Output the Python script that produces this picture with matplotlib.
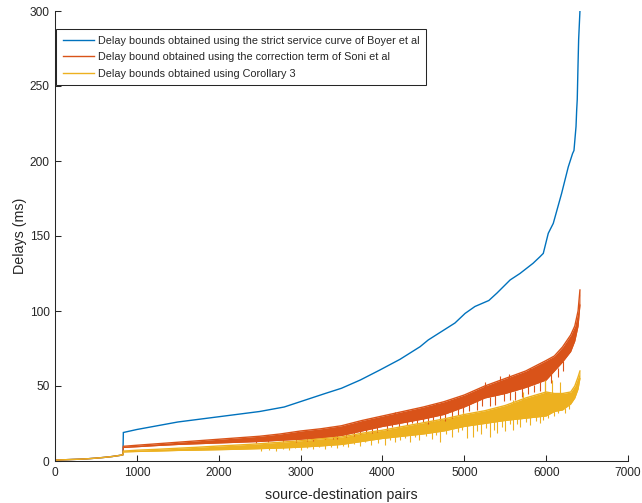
import numpy as np
import matplotlib
matplotlib.use("Agg")
import matplotlib.pyplot as plt

plt.rcParams['font.family'] = ['Liberation Sans', 'DejaVu Sans']

# ---- data -------------------------------------------------------------
# shared initial segment (all three bounds coincide)
start_x = [1, 100, 200, 300, 400, 500, 600, 700, 800, 830]
start_y = [0.6, 0.8, 1.0, 1.2, 1.5, 1.9, 2.4, 3.0, 3.8, 4.2]

# strict service curve (Boyer et al)
boyer_x = [835, 1000, 1500, 2000, 2500, 2800, 3050, 3300, 3500, 3730, 3970,
           4215, 4460, 4560, 4886, 5010, 5130, 5300, 5400, 5560, 5680, 5840,
           5925, 5965, 6026, 6087, 6189, 6270, 6323, 6340, 6365, 6373, 6380,
           6389, 6397, 6413]
boyer_y = [19.0, 21.0, 26.0, 29.5, 33.0, 36.0, 40.5, 45.0, 48.5, 54.0, 60.7,
           67.8, 76.2, 80.7, 92.0, 98.4, 103.0, 107.0, 112.0, 120.7, 125.0,
           131.8, 136.2, 138.4, 151.8, 158.4, 178.4, 196.0, 205.0, 207.0,
           223.0, 234.0, 241.0, 263.0, 281.0, 300.0]

# band of the oscillating bounds after the jump
band_x = [835, 1000, 1250, 1500, 1750, 2000, 2250, 2500, 2750, 3000, 3250,
          3500, 3750, 4000, 4250, 4500, 4750, 5000, 5250, 5500, 5750, 6000,
          6100, 6200, 6300, 6350, 6390, 6413]

soni_top = [9.8, 10.5, 11.5, 12.5, 13.5, 14.5, 15.5, 16.5, 18.0, 20.0, 21.5,
            23.5, 27.0, 30.0, 33.0, 36.0, 39.5, 44.0, 50.0, 55.0, 60.0, 67.0,
            70.0, 76.0, 84.0, 90.0, 100.0, 114.0]
soni_bot = [9.0, 9.5, 10.3, 11.0, 11.5, 12.0, 12.5, 13.0, 13.8, 14.5, 15.5,
            17.0, 20.0, 23.0, 25.5, 28.0, 31.0, 36.0, 42.0, 45.0, 49.0, 54.0,
            60.0, 66.0, 73.0, 80.0, 90.0, 104.0]

coro_top = [6.6, 7.2, 7.8, 8.5, 9.2, 10.0, 10.7, 11.5, 12.5, 13.5, 14.8,
            16.0, 18.5, 20.5, 23.0, 25.5, 28.0, 31.0, 33.5, 37.0, 42.0, 46.0,
            45.0, 45.0, 46.0, 50.0, 56.0, 60.0]
coro_bot = [6.0, 6.3, 6.6, 7.0, 7.2, 7.5, 7.8, 8.2, 8.6, 9.2, 10.0,
            11.0, 13.0, 15.0, 16.5, 18.0, 20.0, 23.0, 25.0, 27.0, 28.5, 30.0,
            33.0, 34.0, 38.0, 42.0, 48.0, 55.0]

# individual excursions of the oscillating bounds (x, low, high)
soni_spike_x = [2450, 2600, 2780, 2950, 3080, 3150, 3300, 3400, 3450, 3560,
                3650, 3720, 3800, 3870, 3930, 4050, 4120, 4150, 4200, 4300,
                4360, 4418, 4500, 4560, 4622, 4650, 4700, 4760, 4850, 4920,
                4988, 5060, 5150, 5220, 5250, 5314, 5380, 5436, 5480, 5550,
                5560, 5620, 5700, 5780, 5803, 5850, 5930, 5990, 6060, 6140,
                6210]
soni_spike_lo = [12.0, 12.4, 12.8, 12.8, 13.6, 13.5, 14.5, 15.0, 15.0, 16.2,
                 16.5, 18.0, 19.0, 18.5, 19.6, 20.7, 22.5, 29.0, 23.0, 24.0,
                 25.5, 24.5, 26.0, 25.0, 26.5, 35.0, 27.5, 27.0, 29.0, 30.5,
                 31.0, 33.5, 34.0, 37.0, 48.0, 36.5, 37.5, 50.0, 40.0, 52.0,
                 41.0, 40.7, 43.0, 45.0, 55.0, 46.0, 47.0, 45.0, 52.0, 56.0,
                 60.0]
soni_spike_hi = [13.8, 14.2, 14.8, 15.5, 15.8, 16.0, 16.6, 17.2, 17.5, 18.5,
                 19.5, 20.5, 21.5, 22.5, 23.5, 24.0, 25.0, 33.0, 26.0, 27.0,
                 27.5, 28.5, 29.0, 29.5, 30.5, 39.0, 31.0, 32.0, 33.5, 35.0,
                 37.0, 38.5, 41.0, 42.0, 53.0, 43.0, 44.0, 57.0, 45.5, 58.0,
                 46.5, 47.0, 48.5, 50.0, 62.0, 51.0, 53.0, 54.5, 58.0, 62.0,
                 67.0]

coro_spike_x = [2520, 2610, 2700, 2790, 2860, 2930, 3010, 3080, 3150, 3230,
                3300, 3370, 3440, 3520, 3580, 3650, 3720, 3790, 3860, 3950,
                4031, 4092, 4150, 4215, 4280, 4337, 4400, 4450, 4530, 4600,
                4650, 4703, 4780, 4850, 4920, 4970, 4990, 5029, 5110, 5160,
                5200, 5260, 5314, 5360, 5400, 5460, 5500, 5560, 5599, 5600,
                5640, 5680, 5720, 5760, 5800, 5870, 5920, 5965, 5986, 6020,
                6068, 6100, 6150, 6170, 6230, 6280]
coro_spike_lo = [7.0, 7.6, 6.9, 7.8, 7.2, 8.4, 7.5, 8.8, 7.9, 9.1,
                 8.2, 9.6, 8.6, 10.3, 9.1, 11.2, 10.0, 12.4, 11.0, 11.8,
                 10.7, 14.0, 12.5, 14.0, 15.5, 12.9, 16.0, 14.0, 17.0, 15.0,
                 17.5, 12.9, 18.0, 16.0, 19.5, 21.0, 28.0, 15.1, 16.2, 20.0,
                 18.0, 22.0, 16.2, 21.0, 18.7, 23.0, 20.0, 24.5, 20.7, 36.0,
                 25.0, 23.0, 38.0, 26.0, 24.0, 27.0, 25.5, 27.3, 42.0, 29.0,
                 42.0, 30.0, 32.0, 42.0, 31.8, 35.0]
coro_spike_hi = [9.2, 9.4, 9.6, 9.8, 10.0, 10.1, 10.2, 10.5, 10.7, 11.0,
                 11.2, 11.5, 11.8, 12.2, 12.6, 13.2, 13.8, 14.3, 14.8, 15.6,
                 16.2, 16.6, 17.0, 17.3, 17.7, 18.0, 18.4, 18.7, 19.3, 19.6,
                 20.0, 20.3, 21.2, 21.6, 22.5, 23.7, 33.0, 24.1, 24.8, 25.2,
                 25.4, 26.1, 26.5, 26.8, 27.2, 27.6, 28.0, 28.4, 28.6, 41.0,
                 28.8, 29.1, 46.0, 29.6, 29.8, 30.2, 30.5, 30.8, 54.0, 31.5,
                 54.0, 34.0, 34.5, 53.0, 35.5, 38.0]

labels = ["Delay bounds obtained using the strict service curve of Boyer et al",
          "Delay bound obtained using the correction term of Soni et al",
          "Delay bounds obtained using Corollary 3"]

BLUE, ORANGE, YELLOW = "#0072BD", "#D95319", "#EDB120"
DARK = "#262626"

# ---- figure -------------------------------------------------------------
fig = plt.figure(figsize=(6.42, 5.03), dpi=100)
ax = fig.add_axes([55 / 642, 42 / 503, 573 / 642, 450 / 503])

def bound(ax, xs, ys, color, lw=1.0):
    return ax.plot(xs, ys, color=color, lw=lw, solid_joinstyle="miter")[0]

# Boyer et al
h1 = bound(ax, start_x + boyer_x, start_y + boyer_y, BLUE)

# Soni et al
ax.fill_between(band_x, soni_bot, soni_top, color=ORANGE, lw=0)
ax.vlines(soni_spike_x, soni_spike_lo, soni_spike_hi, color=ORANGE, lw=0.8)
bound(ax, band_x, soni_bot, ORANGE, 0.8)
h2 = bound(ax, start_x + band_x, start_y + soni_top, ORANGE)

# Corollary 3
ax.fill_between(band_x, coro_bot, coro_top, color=YELLOW, lw=0)
ax.vlines(coro_spike_x, coro_spike_lo, coro_spike_hi, color=YELLOW, lw=0.8)
bound(ax, band_x, coro_bot, YELLOW, 0.8)
h3 = bound(ax, start_x + band_x, start_y + coro_top, YELLOW)

ax.set_xlim(0, 7000)
ax.set_ylim(0, 300)
ax.set_xticks(np.arange(0, 7001, 1000))
ax.set_yticks(np.arange(0, 301, 50))

for side in ("top", "right"):
    ax.spines[side].set_visible(False)
for side in ("left", "bottom"):
    ax.spines[side].set_color(DARK)
    ax.spines[side].set_linewidth(0.75)

ax.tick_params(direction="in", length=4, width=0.75, color=DARK,
               labelcolor=DARK, labelsize=8.6, pad=4)

ax.set_xlabel("source-destination pairs", fontsize=10.3, color=DARK, labelpad=7)
ax.set_ylabel("Delays (ms)", fontsize=10.3, color=DARK, labelpad=2)

leg = ax.legend([h1, h2, h3], labels, loc="upper left",
                bbox_to_anchor=(0.002, 0.96), borderaxespad=0, fontsize=7.8,
                frameon=True, fancybox=False, framealpha=1, edgecolor=DARK,
                handlelength=2.9, handletextpad=0.37, labelspacing=0.6,
                borderpad=0.6)
leg.get_frame().set_linewidth(0.75)
for t in leg.get_texts():
    t.set_color(DARK)

fig.savefig("out.png", dpi=100)
